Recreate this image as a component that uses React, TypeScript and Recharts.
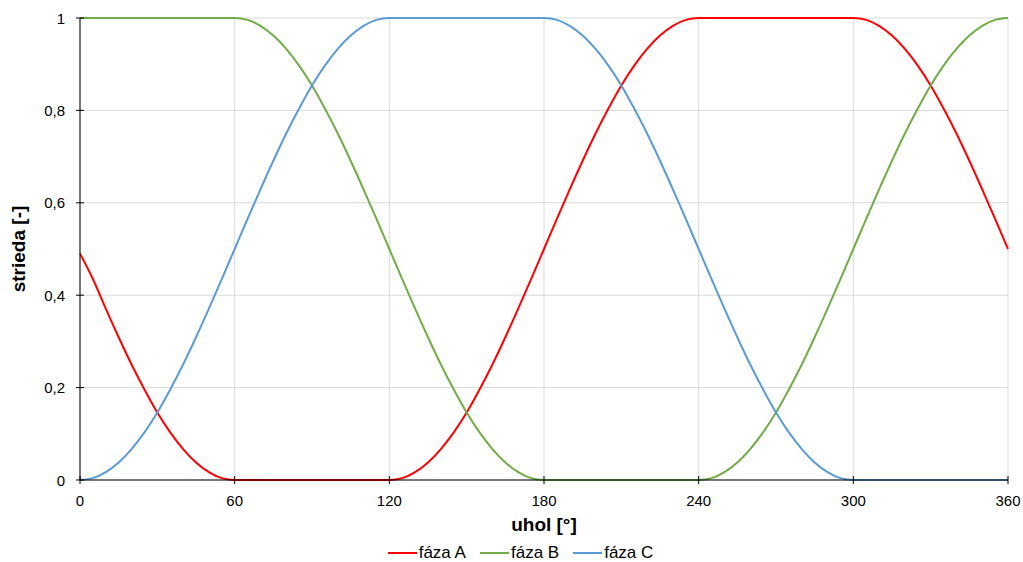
import { LineChart, Line, XAxis, YAxis, CartesianGrid, Legend } from "recharts";

const FONT = "'Liberation Sans', Arial, sans-serif";

// uhol [°], krok 5°
const angles = [
  0, 5, 10, 15, 20, 25, 30, 35, 40, 45, 50, 55, 60, 65, 70, 75, 80, 85, 90, 95,
  100, 105, 110, 115, 120, 125, 130, 135, 140, 145, 150, 155, 160, 165, 170,
  175, 180, 185, 190, 195, 200, 205, 210, 215, 220, 225, 230, 235, 240, 245,
  250, 255, 260, 265, 270, 275, 280, 285, 290, 295, 300, 305, 310, 315, 320,
  325, 330, 335, 340, 345, 350, 355, 360,
];

const fazaA = [
  0.49, 0.435, 0.371, 0.309, 0.25, 0.196, 0.146, 0.103, 0.067, 0.038, 0.017,
  0.004, 0, 0, 0, 0, 0, 0, 0, 0, 0, 0, 0, 0, 0, 0.004, 0.017, 0.038, 0.067,
  0.103, 0.146, 0.196, 0.25, 0.309, 0.371, 0.435, 0.5, 0.565, 0.629, 0.691,
  0.75, 0.804, 0.854, 0.897, 0.933, 0.962, 0.983, 0.996, 1, 1, 1, 1, 1, 1, 1,
  1, 1, 1, 1, 1, 1, 0.996, 0.983, 0.962, 0.933, 0.897, 0.854, 0.804, 0.75,
  0.691, 0.629, 0.565, 0.5,
];

const fazaB = [
  1, 1, 1, 1, 1, 1, 1, 1, 1, 1, 1, 1, 1, 0.996, 0.983, 0.962, 0.933, 0.897,
  0.854, 0.804, 0.75, 0.691, 0.629, 0.565, 0.5, 0.435, 0.371, 0.309, 0.25,
  0.196, 0.146, 0.103, 0.067, 0.038, 0.017, 0.004, 0, 0, 0, 0, 0, 0, 0, 0, 0,
  0, 0, 0, 0, 0.004, 0.017, 0.038, 0.067, 0.103, 0.146, 0.196, 0.25, 0.309,
  0.371, 0.435, 0.5, 0.565, 0.629, 0.691, 0.75, 0.804, 0.854, 0.897, 0.933,
  0.962, 0.983, 0.996, 1,
];

const fazaC = [
  0, 0.004, 0.017, 0.038, 0.067, 0.103, 0.146, 0.196, 0.25, 0.309, 0.371,
  0.435, 0.5, 0.565, 0.629, 0.691, 0.75, 0.804, 0.854, 0.897, 0.933, 0.962,
  0.983, 0.996, 1, 1, 1, 1, 1, 1, 1, 1, 1, 1, 1, 1, 1, 0.996, 0.983, 0.962,
  0.933, 0.897, 0.854, 0.804, 0.75, 0.691, 0.629, 0.565, 0.5, 0.435, 0.371,
  0.309, 0.25, 0.196, 0.146, 0.103, 0.067, 0.038, 0.017, 0.004, 0, 0, 0, 0, 0,
  0, 0, 0, 0, 0, 0, 0, 0,
];

const xTicks = [0, 60, 120, 180, 240, 300, 360];
const yTicks = [0, 0.2, 0.4, 0.6, 0.8, 1];

const series = [
  { key: "fazaA", name: "fáza A", color: "#FF0000" },
  { key: "fazaB", name: "fáza B", color: "#70AD47" },
  { key: "fazaC", name: "fáza C", color: "#5B9BD5" },
];

const data = angles.map((uhol, i) => ({
  uhol,
  fazaA: fazaA[i],
  fazaB: fazaB[i],
  fazaC: fazaC[i],
}));

const TICK_MARGIN = 8;

const XTick = (props: any) => {
  const { x, y, payload } = props;
  const axisY = y - TICK_MARGIN;
  return (
    <g>
      <line x1={x} x2={x} y1={axisY - 4} y2={axisY + 4} stroke="#000" />
      <text
        x={x}
        y={axisY + 26}
        textAnchor="middle"
        fontSize={15}
        fontFamily={FONT}
        fill="#000"
      >
        {payload.value}
      </text>
    </g>
  );
};

const YTick = (props: any) => {
  const { x, y, payload } = props;
  const axisX = x + TICK_MARGIN;
  return (
    <g>
      <line x1={axisX - 4} x2={axisX + 4} y1={y} y2={y} stroke="#000" />
      <text
        x={axisX - 15}
        y={y + 5.5}
        textAnchor="end"
        fontSize={15}
        fontFamily={FONT}
        fill="#000"
      >
        {String(payload.value).replace(".", ",")}
      </text>
    </g>
  );
};

const renderLegend = () => (
  <div
    style={{
      display: "flex",
      justifyContent: "center",
      gap: 14,
      fontFamily: FONT,
      fontSize: 17,
      lineHeight: "20px",
      color: "#000",
      paddingLeft: 18,
    }}
  >
    {series.map((s) => (
      <div key={s.key} style={{ display: "flex", alignItems: "center" }}>
        <div
          style={{
            width: 29,
            height: 2,
            background: s.color,
            marginRight: 2,
          }}
        />
        <span>{s.name}</span>
      </div>
    ))}
  </div>
);

export default function App() {
  return (
    <div style={{ position: "absolute", left: 0, top: 0 }}>
      <LineChart
        width={1023}
        height={562}
        data={data}
        margin={{ top: 18, right: 15, left: 0, bottom: 36 }}
      >
        <CartesianGrid stroke="#d9d9d9" />
        <XAxis
          dataKey="uhol"
          type="number"
          domain={[0, 360]}
          ticks={xTicks}
          interval={0}
          tickLine={false}
          tickSize={0}
          tickMargin={TICK_MARGIN}
          tick={<XTick />}
          axisLine={{ stroke: "#000" }}
          height={46}
          label={{
            content: (p: any) => {
              const vb = p.viewBox;
              return (
                <text
                  x={vb.x + vb.width / 2}
                  y={vb.y + 51}
                  textAnchor="middle"
                  fontSize={19}
                  fontWeight="bold"
                  fontFamily={FONT}
                  fill="#000"
                >
                  uhol [°]
                </text>
              );
            },
          }}
        />
        <YAxis
          type="number"
          domain={[0, 1]}
          ticks={yTicks}
          interval={0}
          tickLine={false}
          tickSize={0}
          tickMargin={TICK_MARGIN}
          tick={<YTick />}
          axisLine={{ stroke: "#000" }}
          width={80}
          label={{
            content: (p: any) => {
              const vb = p.viewBox;
              const cx = vb.x + 18;
              const cy = vb.y + vb.height / 2;
              return (
                <text
                  x={cx}
                  y={cy}
                  transform={`rotate(-90, ${cx}, ${cy})`}
                  textAnchor="middle"
                  dominantBaseline="central"
                  fontSize={19}
                  fontWeight="bold"
                  fontFamily={FONT}
                  fill="#000"
                >
                  strieda [-]
                </text>
              );
            },
          }}
        />
        <Legend
          verticalAlign="middle"
          align="center"
          layout="horizontal"
          content={renderLegend}
          wrapperStyle={{ top: 543, left: 0, width: 1023, height: 20 }}
        />
        {series.map((s) => (
          <Line
            key={s.key}
            type="monotone"
            dataKey={s.key}
            name={s.name}
            stroke={s.color}
            strokeWidth={2}
            dot={false}
            activeDot={false}
            isAnimationActive={false}
          />
        ))}
      </LineChart>
    </div>
  );
}
